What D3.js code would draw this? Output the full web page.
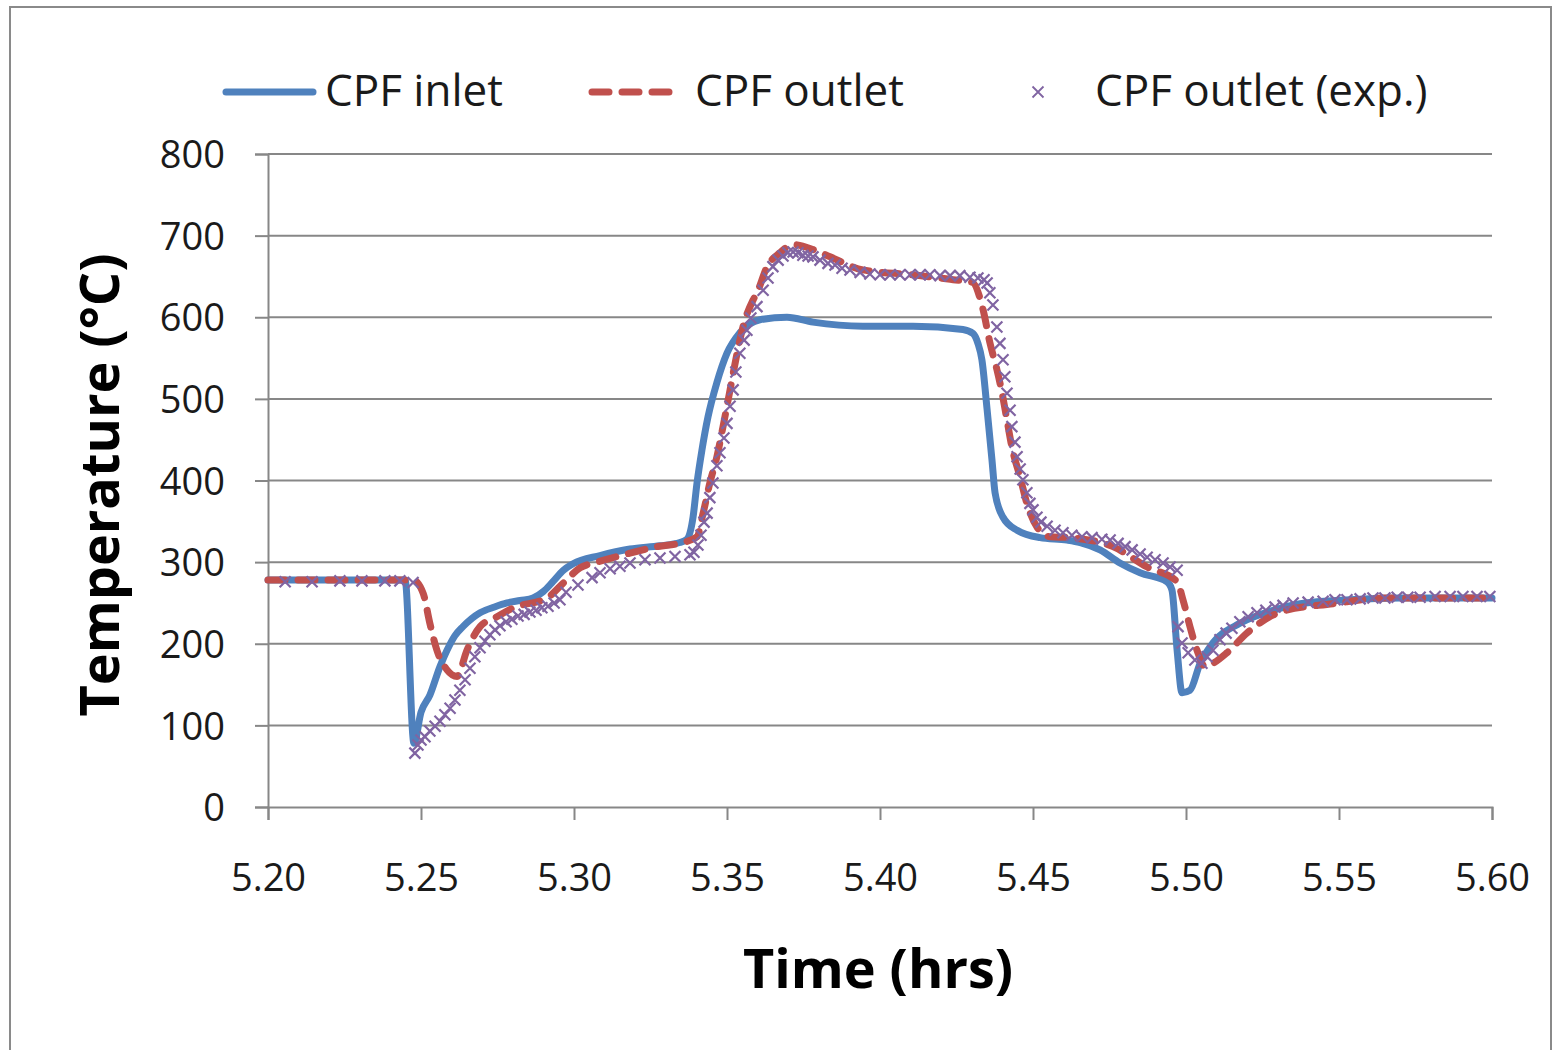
<!DOCTYPE html>
<html><head><meta charset="utf-8">
<script src="https://cdn.jsdelivr.net/npm/d3@7"></script>
<style>
html,body{margin:0;padding:0;background:#fff;}
svg{display:block;}
</style></head>
<body>
<script>
// ---- data ----
const xTicks = [5.20, 5.25, 5.30, 5.35, 5.40, 5.45, 5.50, 5.55, 5.60];
const yTicks = [0, 100, 200, 300, 400, 500, 600, 700, 800];
const seriesNames = ["CPF inlet", "CPF outlet", "CPF outlet (exp.)"];
const xTitle = "Time (hrs)";
const yTitle = "Temperature (°C)";

const inlet = [
[5.2000,278],[5.2448,278],[5.2477,78],[5.2500,116],[5.2529,137],[5.2562,172],[5.2585,192],[5.2611,210],
[5.2637,221],[5.2693,238],[5.2740,245],[5.2781,250],[5.2824,253],[5.2866,256],[5.2900,264],[5.2931,276],
[5.2965,290],[5.2997,298],[5.3085,308],[5.3183,316],[5.3281,320],[5.3346,324],[5.3369,328],[5.3389,355],
[5.3402,397],[5.3418,437],[5.3438,478],[5.3467,520],[5.3500,556],[5.3542,581],[5.3608,597],[5.3696,600],
[5.3781,594],[5.3944,589],[5.4108,589],[5.4271,585],[5.4304,580],[5.4320,568],[5.4333,548],[5.4350,487],
[5.4366,425],[5.4376,385],[5.4402,355],[5.4448,339],[5.4523,330],[5.4611,327],[5.4654,324],[5.4719,315],
[5.4784,299],[5.4850,287],[5.4938,276],[5.4954,266],[5.4971,192],[5.4987,140],[5.5013,143],[5.5046,176],
[5.5088,201],[5.5176,225],[5.5284,241],[5.5373,249],[5.5536,254],[5.5700,256],[5.6000,256]
];

const outlet = [
[5.2000,278],[5.2474,278],[5.2507,262],[5.2529,225],[5.2552,192],[5.2585,168],[5.2618,160],[5.2650,192],
[5.2693,221],[5.2748,233],[5.2801,244],[5.2912,256],[5.2964,274],[5.3020,293],[5.3075,300],[5.3183,311],
[5.3271,319],[5.3356,324],[5.3402,331],[5.3422,360],[5.3444,397],[5.3467,429],[5.3487,466],[5.3510,511],
[5.3533,556],[5.3552,588],[5.3585,621],[5.3598,630],[5.3631,662],[5.3673,679],[5.3716,689],[5.3781,683],
[5.3837,674],[5.3944,658],[5.4108,652],[5.4239,646],[5.4301,643],[5.4337,609],[5.4359,569],[5.4382,536],
[5.4399,507],[5.4415,474],[5.4431,441],[5.4458,404],[5.4480,372],[5.4513,343],[5.4556,331],[5.4620,330],
[5.4761,319],[5.4873,294],[5.4971,276],[5.4990,254],[5.5013,221],[5.5036,192],[5.5062,172],[5.5088,176],
[5.5134,189],[5.5199,213],[5.5284,235],[5.5317,240],[5.5480,249],[5.5644,256],[5.6000,256]
];

const outletExp = [
[5.2056,276],[5.2144,276],[5.2235,277],[5.2307,277],[5.2382,277],[5.2431,277],[5.2474,275],[5.2480,66],
[5.2490,76],[5.2500,82],[5.2513,86],[5.2529,93],[5.2546,99],[5.2562,105],[5.2578,113],[5.2595,121],
[5.2611,131],[5.2627,143],[5.2644,156],[5.2660,170],[5.2676,184],[5.2693,195],[5.2709,203],[5.2725,211],
[5.2742,217],[5.2758,222],[5.2778,227],[5.2797,230],[5.2817,234],[5.2837,236],[5.2856,239],[5.2876,241],
[5.2895,244],[5.2915,246],[5.2935,250],[5.2954,254],[5.2974,263],[5.3013,272],[5.3059,281],[5.3085,287],
[5.3118,292],[5.3150,295],[5.3183,299],[5.3232,303],[5.3281,305],[5.3330,307],[5.3379,309],[5.3392,312],
[5.3405,321],[5.3415,333],[5.3425,349],[5.3435,360],[5.3444,379],[5.3454,397],[5.3467,418],[5.3477,434],
[5.3490,452],[5.3500,470],[5.3510,491],[5.3520,511],[5.3529,533],[5.3542,556],[5.3556,572],[5.3565,584],
[5.3578,599],[5.3598,613],[5.3618,633],[5.3634,648],[5.3650,662],[5.3667,670],[5.3683,675],[5.3699,679],
[5.3716,680],[5.3732,679],[5.3748,676],[5.3765,675],[5.3781,674],[5.3804,670],[5.3830,666],[5.3853,664],
[5.3876,660],[5.3902,658],[5.3935,655],[5.3967,653],[5.4000,652],[5.4033,652],[5.4065,652],[5.4098,652],
[5.4131,652],[5.4163,652],[5.4196,651],[5.4229,651],[5.4261,651],[5.4294,649],[5.4320,648],[5.4340,646],
[5.4350,642],[5.4359,630],[5.4369,615],[5.4382,588],[5.4392,568],[5.4402,548],[5.4408,527],[5.4415,507],
[5.4425,486],[5.4431,466],[5.4441,447],[5.4448,429],[5.4458,414],[5.4467,401],[5.4480,385],[5.4490,372],
[5.4500,364],[5.4513,355],[5.4526,349],[5.4546,344],[5.4572,339],[5.4598,336],[5.4627,333],[5.4660,331],
[5.4693,330],[5.4725,328],[5.4752,327],[5.4778,323],[5.4801,319],[5.4824,315],[5.4850,310],[5.4873,306],
[5.4899,303],[5.4925,299],[5.4948,294],[5.4971,290],[5.4974,221],[5.4987,201],[5.5007,189],[5.5029,180],
[5.5052,176],[5.5069,184],[5.5088,192],[5.5111,205],[5.5131,213],[5.5150,219],[5.5176,227],[5.5203,233],
[5.5232,238],[5.5261,241],[5.5291,245],[5.5317,247],[5.5350,250],[5.5399,251],[5.5448,252],[5.5487,254],
[5.5526,254],[5.5569,255],[5.5611,256],[5.5650,256],[5.5690,257],[5.5725,257],[5.5765,257],[5.5814,258],
[5.5863,258],[5.5905,258],[5.5951,258],[5.5993,258]
];

// ---- drawing ----
const W = 1556, H = 1050;
const C_BLUE = "#4F81BD", C_RED = "#C0504D", C_PURPLE = "#8064A2", C_GRID = "#878787";
const FONT = "'Open Sans', 'Noto Sans', sans-serif";

const svg = d3.select("body").append("svg").attr("width", W).attr("height", H);
svg.append("rect").attr("width", W).attr("height", H).attr("fill", "#fff");
svg.append("rect").attr("x", 10).attr("y", 7).attr("width", 1541).attr("height", 1080)
  .attr("fill", "none").attr("stroke", "#8a8a8a").attr("stroke-width", 2);

const x = d3.scaleLinear().domain([5.2, 5.6]).range([268, 1492]);
const y = d3.scaleLinear().domain([0, 800]).range([807, 154]);

// gridlines
svg.append("g").selectAll("line").data(yTicks.filter(d => d > 0)).join("line")
  .attr("x1", x(5.2)).attr("x2", x(5.6)).attr("y1", d => y(d)).attr("y2", d => y(d))
  .attr("stroke", C_GRID).attr("stroke-width", 2);

// y axis
const yAxis = svg.append("g").attr("transform", `translate(${x(5.2)},0)`)
  .call(d3.axisLeft(y).tickValues(yTicks).tickSize(13).tickPadding(30).tickFormat(d3.format("d")));
// x axis
const xAxis = svg.append("g").attr("transform", `translate(0,${y(0)})`)
  .call(d3.axisBottom(x).tickValues(xTicks).tickSize(13).tickPadding(52).tickFormat(d3.format(".2f")));
[yAxis, xAxis].forEach(g => {
  g.select(".domain").attr("stroke", C_GRID).attr("stroke-width", 2);
  g.selectAll(".tick line").attr("stroke", C_GRID).attr("stroke-width", 2);
  g.selectAll(".tick text").attr("font-family", FONT).attr("font-size", 38).attr("fill", "#1a1a1a");
});
yAxis.selectAll(".tick text").attr("dy", "0.36em");
xAxis.selectAll(".tick text").attr("dy", "0.5em");

// series
const line = d3.line().x(d => x(d[0])).y(d => y(d[1])).curve(d3.curveMonotoneX);
svg.append("path").datum(inlet).attr("d", line).attr("fill", "none")
  .attr("stroke", C_BLUE).attr("stroke-width", 7).attr("stroke-linejoin", "round").attr("stroke-linecap", "round");
svg.append("path").datum(outlet).attr("d", line).attr("fill", "none")
  .attr("stroke", C_RED).attr("stroke-width", 7).attr("stroke-dasharray", "17,13")
  .attr("stroke-linejoin", "round").attr("stroke-linecap", "round");

const mk = 5.5;
const xPath = (cx, cy) => `M${cx-mk},${cy-mk}L${cx+mk},${cy+mk}M${cx-mk},${cy+mk}L${cx+mk},${cy-mk}`;
const mg = svg.append("g");
mg.selectAll("path").data(outletExp).join("path")
  .attr("d", d => xPath(x(d[0]), y(d[1])))
  .attr("stroke", C_PURPLE).attr("stroke-width", 2.2).attr("fill", "none");

// legend
const lg = svg.append("g");
lg.append("line").attr("x1", 226).attr("x2", 313).attr("y1", 92).attr("y2", 92)
  .attr("stroke", C_BLUE).attr("stroke-width", 7).attr("stroke-linecap", "round");
lg.append("text").attr("x", 325).attr("y", 106).text(seriesNames[0]);
lg.append("line").attr("x1", 592).attr("x2", 672).attr("y1", 92).attr("y2", 92)
  .attr("stroke", C_RED).attr("stroke-width", 7).attr("stroke-linecap", "round").attr("stroke-dasharray", "17,13");
lg.append("text").attr("x", 695).attr("y", 106).text(seriesNames[1]);
lg.append("path").attr("d", xPath(1038, 92)).attr("stroke", C_PURPLE).attr("stroke-width", 1.8).attr("fill", "none");
lg.append("text").attr("x", 1095).attr("y", 106).text(seriesNames[2]);
lg.selectAll("text").attr("font-family", FONT).attr("font-size", 44).attr("fill", "#1a1a1a");

// titles
svg.append("text").attr("x", 878).attr("y", 988).attr("text-anchor", "middle")
  .attr("font-family", FONT).attr("font-weight", "bold").attr("font-size", 54).attr("fill", "#000")
  .text(xTitle);
svg.append("text").attr("transform", "translate(119,485) rotate(-90)").attr("text-anchor", "middle")
  .attr("font-family", FONT).attr("font-weight", "bold").attr("font-size", 54).attr("fill", "#000")
  .text(yTitle);
</script>
</body></html>
